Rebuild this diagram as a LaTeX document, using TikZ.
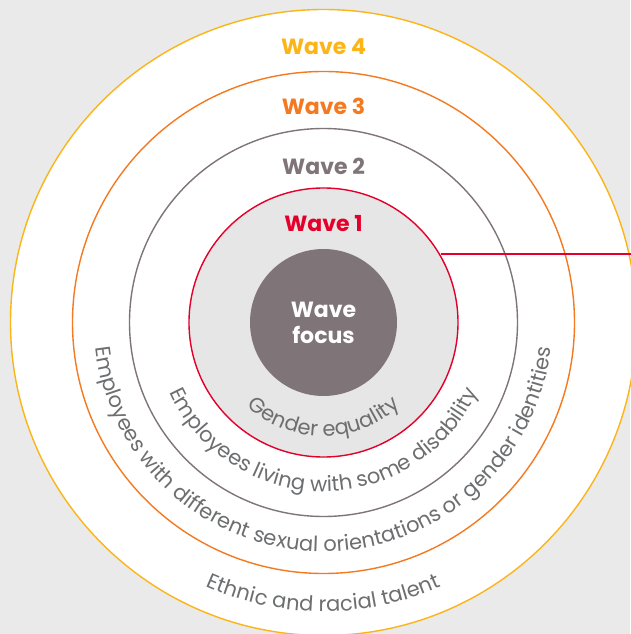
\documentclass[tikz,border=0pt]{standalone}
\usepackage{fontspec}
\setmainfont{Poppins}
\usetikzlibrary{decorations.text}
\definecolor{wavebg}{HTML}{EAEAEA}
\definecolor{innerfill}{HTML}{E6E6E6}
\definecolor{wavefour}{HTML}{FBB519}
\definecolor{wavethree}{HTML}{F47A22}
\definecolor{wavetwo}{HTML}{7F7579}
\definecolor{waveone}{HTML}{E4002B}
\definecolor{arcgray}{HTML}{6D6E70}
\newcommand{\arcfont}{\fontsize{21}{24}\selectfont}

\begin{document}
\begin{tikzpicture}[x=1pt,y=1pt,
    ring/.style={circle,inner sep=0pt,line width=1.4pt},
    wavelabel/.style={font=\fontsize{22}{26}\selectfont\bfseries,anchor=center},
    arclabel/.style={decorate,decoration={text along path,text align=center,text color=arcgray,text={|\arcfont|#1}}},
]
\fill[wavebg] (-323.5,-311.5) rectangle (306.5,322.5);
\useasboundingbox (-323.5,-311.5) rectangle (306.5,322.5);
\node[ring,draw=wavefour,fill=white,minimum size=626pt] (wave4) at (0,0) {};
\node[ring,draw=wavethree,fill=white,minimum size=502pt] (wave3) at (0,0) {};
\node[ring,draw=wavetwo,fill=white,minimum size=388pt] (wave2) at (0,0) {};
\node[ring,draw=waveone,fill=innerfill,minimum size=269pt] (wave1) at (0,0) {};
\node[circle,inner sep=0pt,fill=wavetwo,minimum size=147pt,text=white,align=center,
      font=\fontsize{22}{26}\selectfont\bfseries] (focus) at (0,0) {Wave\\focus};
\foreach \n/\y/\c in {4/276.3/wavefour,3/216/wavethree,2/155.8/wavetwo,1/98.7/waveone}
  \node[wavelabel,text=\c] (lbl\n) at (0,\y) {Wave \n};
\path[arclabel={Gender equality}] (180:113.5) arc[start angle=180,end angle=360,radius=113.5];
\path[arclabel={Employees living with some disability}] (170:169) arc[start angle=170,end angle=370,radius=169];
\path[arclabel={Employees with different sexual orientations or gender identities}] (170:229) arc[start angle=170,end angle=370,radius=229];
\path[arclabel={Ethnic and racial talent}] (180:289) arc[start angle=180,end angle=360,radius=289];
\coordinate (lineend) at (310,68.5);
\draw[waveone,line width=1.4pt] (lineend -| wave1.30.6) -- (lineend);
\end{tikzpicture}
\end{document}
